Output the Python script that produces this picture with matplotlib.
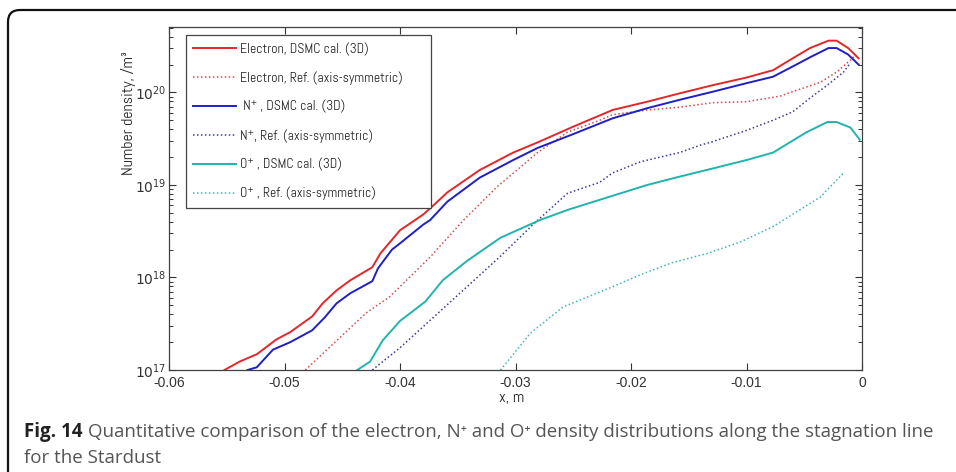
import matplotlib
matplotlib.use("Agg")
import matplotlib.pyplot as plt
from matplotlib.patches import FancyBboxPatch
from matplotlib.ticker import NullLocator

plt.rcParams['mathtext.fontset'] = 'custom'
plt.rcParams['mathtext.rm'] = 'Liberation Sans'
plt.rcParams['mathtext.it'] = 'Liberation Sans:italic'

# tall narrow face for the legend and axis titles
narrow = ['Abel', 'DejaVu Sans']

# Electron density, DSMC 3D run
x_e_dsmc = [-0.0552, -0.0539, -0.0524, -0.0507, -0.0495, -0.0476, -0.0467, -0.0455, -0.0443,
            -0.0424, -0.0417, -0.0400, -0.0380, -0.0371, -0.0359, -0.0331, -0.0302, -0.0281,
            -0.0250, -0.0216, -0.0186, -0.0158, -0.0129, -0.0100, -0.0077, -0.0060, -0.0045,
            -0.0029, -0.0022, -0.0012, -0.0003]
n_e_dsmc = [1.0e17, 1.23e17, 1.48e17, 2.14e17, 2.57e17, 3.80e17, 5.25e17, 7.24e17, 9.33e17,
            1.29e18, 1.82e18, 3.24e18, 4.79e18, 6.03e18, 8.32e18, 1.45e19, 2.24e19, 2.88e19,
            4.27e19, 6.46e19, 7.94e19, 9.77e19, 1.20e20, 1.45e20, 1.74e20, 2.34e20, 3.02e20,
            3.63e20, 3.63e20, 3.02e20, 2.34e20]

# Electron density, axis-symmetric reference
x_e_ref = [-0.0482, -0.0458, -0.0429, -0.0409, -0.0374, -0.0345, -0.0316, -0.0296, -0.0281,
           -0.0255, -0.0227, -0.0216, -0.0186, -0.0158, -0.0129, -0.0100, -0.0071, -0.0060,
           -0.0036, -0.0022, -0.0010, -0.0006]
n_e_ref = [1.0e17, 1.91e17, 4.17e17, 6.17e17, 1.66e18, 4.17e18, 9.55e18, 1.55e19, 2.24e19,
           3.72e19, 5.01e19, 5.75e19, 6.46e19, 6.92e19, 7.76e19, 7.94e19, 9.12e19, 1.02e20,
           1.29e20, 1.66e20, 2.24e20, 2.51e20]

# N+ density, DSMC 3D run
x_n_dsmc = [-0.0532, -0.0524, -0.0510, -0.0495, -0.0476, -0.0465, -0.0455, -0.0443, -0.0424,
            -0.0419, -0.0407, -0.0400, -0.0380, -0.0374, -0.0359, -0.0331, -0.0302, -0.0281,
            -0.0250, -0.0216, -0.0186, -0.0158, -0.0129, -0.0100, -0.0077, -0.0060, -0.0045,
            -0.0029, -0.0022, -0.0012, -0.0003]
n_n_dsmc = [1.0e17, 1.07e17, 1.66e17, 2.0e17, 2.69e17, 3.72e17, 5.25e17, 6.76e17, 9.12e17,
            1.26e18, 2.0e18, 2.34e18, 3.72e18, 4.17e18, 6.61e18, 1.20e19, 1.86e19, 2.51e19,
            3.55e19, 5.25e19, 6.76e19, 8.32e19, 1.02e20, 1.26e20, 1.48e20, 1.91e20, 2.40e20,
            3.02e20, 3.02e20, 2.57e20, 2.00e20]

# N+ density, axis-symmetric reference
x_n_ref = [-0.0424, -0.0400, -0.0371, -0.0342, -0.0313, -0.0285, -0.0255, -0.0227, -0.0216,
           -0.0192, -0.0158, -0.0140, -0.0129, -0.0100, -0.0077, -0.0060, -0.0045, -0.0030,
           -0.0016, -0.0010]
n_n_ref = [1.0e17, 1.74e17, 3.72e17, 7.94e17, 1.70e18, 3.72e18, 8.13e18, 1.07e19, 1.35e19,
           1.78e19, 2.24e19, 2.69e19, 2.95e19, 3.89e19, 5.01e19, 6.17e19, 8.71e19, 1.20e20,
           1.66e20, 2.09e20]

# O+ density, DSMC 3D run
x_o_dsmc = [-0.0437, -0.0426, -0.0415, -0.0400, -0.0378, -0.0363, -0.0342, -0.0313, -0.0279,
            -0.0255, -0.0227, -0.0186, -0.0158, -0.0129, -0.0100, -0.0077, -0.0048, -0.0030,
            -0.0022, -0.0010, -0.0002]
n_o_dsmc = [1.0e17, 1.23e17, 2.09e17, 3.39e17, 5.50e17, 9.33e17, 1.51e18, 2.69e18, 4.17e18,
            5.37e18, 6.92e18, 1.0e19, 1.23e19, 1.51e19, 1.86e19, 2.24e19, 3.72e19, 4.79e19,
            4.79e19, 4.17e19, 3.09e19]

# O+ density, axis-symmetric reference
x_o_ref = [-0.0313, -0.0287, -0.0259, -0.0216, -0.0192, -0.0164, -0.0134, -0.0106, -0.0077,
           -0.0054, -0.0036, -0.0016]
n_o_ref = [1.0e17, 2.51e17, 4.79e17, 7.94e17, 1.07e18, 1.45e18, 1.82e18, 2.40e18, 3.55e18,
           5.37e18, 7.41e18, 1.35e19]

labels = ["Electron, DSMC cal. (3D)", "Electron, Ref. (axis-symmetric)",
          " N\u207a , DSMC cal. (3D)", "N\u207a, Ref. (axis-symmetric)",
          "O\u207a , DSMC cal. (3D)", "O\u207a , Ref. (axis-symmetric)"]

x_ticks = [-0.06, -0.05, -0.04, -0.03, -0.02, -0.01, 0]
x_ticklabels = ["-0.06", "-0.05", "-0.04", "-0.03", "-0.02", "-0.01", "0"]

caption_bold = "Fig. 14"
caption_line1 = "Quantitative comparison of the electron, N\u207a and O\u207a density distributions along the stagnation line"
caption_line2 = "for the Stardust"

fig = plt.figure(figsize=(9.56, 4.72), dpi=100)
ax = fig.add_axes([0.1768, 0.2161, 0.7249, 0.7267])

dot = (0, (1, 1.6))
ax.plot(x_e_dsmc, n_e_dsmc, color='#e3262b', lw=1.4, label=labels[0])
ax.plot(x_e_ref, n_e_ref, color='#d04c4c', lw=1.1, linestyle=dot, label=labels[1])
ax.plot(x_n_dsmc, n_n_dsmc, color='#1f1fc4', lw=1.4, label=labels[2])
ax.plot(x_n_ref, n_n_ref, color='#3a3a9e', lw=1.1, linestyle=dot, label=labels[3])
ax.plot(x_o_dsmc, n_o_dsmc, color='#22b3ac', lw=1.4, label=labels[4])
ax.plot(x_o_ref, n_o_ref, color='#40b5b3', lw=1.1, linestyle=dot, label=labels[5])

ax.set_yscale('log')
ax.set_xlim(-0.06, 0)
ax.set_ylim(1e17, 5.1e20)
ax.set_xticks(x_ticks)
ax.set_xticklabels(x_ticklabels, family='Liberation Sans', fontsize=10)
ax.xaxis.set_minor_locator(NullLocator())
ax.tick_params(which='both', direction='in', top=True, right=True, colors='#333333')
ax.tick_params(which='major', length=5, width=0.8)
ax.tick_params(which='minor', length=2.8, width=0.7)
ax.tick_params(axis='y', pad=2, labelsize=10)
ax.tick_params(axis='x', pad=4)
for sp in ax.spines.values():
    sp.set_color('#404040')
    sp.set_linewidth(0.9)

ax.set_xlabel("x, m", family=narrow, fontstretch='condensed', fontsize=11.5, color='#222222')
ax.xaxis.set_label_coords(0.495, -0.06)
ax.set_ylabel("Number density, /m\u00b3", family=narrow, fontstretch='condensed',
              fontsize=11.5, color='#222222')
ax.yaxis.set_label_coords(-0.047, 0.75)

leg = ax.legend(loc='upper left', bbox_to_anchor=(0.0245, 0.977, 0.354, 0), mode='expand',
                borderaxespad=0, fancybox=False, edgecolor='#444444', framealpha=1,
                prop={'family': narrow, 'stretch': 'condensed', 'size': 9.8},
                handlelength=3.1, handletextpad=0.35, labelspacing=1.12, borderpad=0.55)
leg.get_frame().set_linewidth(0.9)
for t in leg.get_texts():
    t.set_color('#222222')

# rounded figure frame, running off the right and bottom edges (inch units)
frame = FancyBboxPatch((0.08, -1.0), 11.0, 4.62 + 1.0,
                       boxstyle="round,pad=0,rounding_size=0.12",
                       transform=fig.dpi_scale_trans, fill=False, edgecolor='#111111',
                       linewidth=1.6, clip_on=False)
fig.patches.append(frame)

cap_font = ['Open Sans', 'DejaVu Sans']
tb = fig.text(24 / 956, 1 - 432 / 472, caption_bold, family=cap_font, fontsize=13.5,
              fontweight='bold', color='#222222', va='center')
renderer = fig.canvas.get_renderer()
bb = tb.get_window_extent(renderer)
fig.text((bb.x1 + 5) / 956, 1 - 432 / 472, caption_line1, family=cap_font, fontsize=13.5,
         color='#555555', va='center')
fig.text(24 / 956, 1 - 458 / 472, caption_line2, family=cap_font, fontsize=13.5,
         color='#555555', va='center')

fig.savefig("out.png", dpi=100)
